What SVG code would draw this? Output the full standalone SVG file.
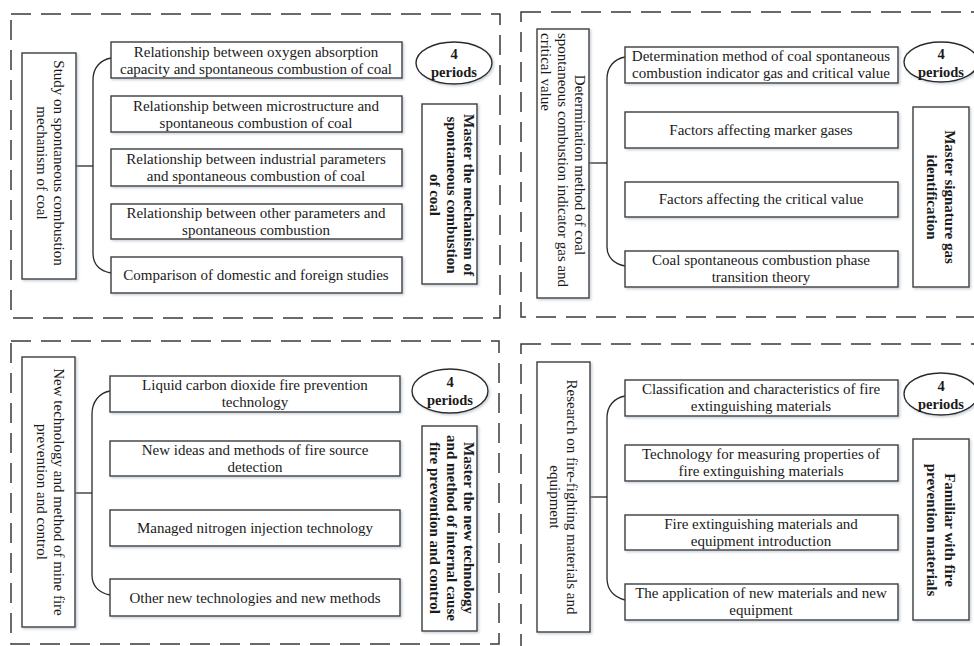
<svg xmlns="http://www.w3.org/2000/svg" width="974" height="646" viewBox="0 0 974 646">
<style>
.dash{fill:none;stroke:#3a3a3a;stroke-width:1.5;stroke-dasharray:20 10}
.box{fill:#fff;stroke:#3c3c3c;stroke-width:1.4;filter:url(#sh)}
.ell{fill:#fff;stroke:#2a2a2a;stroke-width:1.4;filter:url(#sh)}
.con{fill:none;stroke:#2a2a2a;stroke-width:1.3}
text{font-family:"Liberation Serif","Times New Roman",serif;font-size:15px;fill:#1a1a1a;dominant-baseline:central}
.c{text-anchor:middle}
.s{text-anchor:start}
.b{font-weight:bold}
.e{font-size:14.5px}
</style>
<defs>
<filter id="sh" x="-10%" y="-10%" width="130%" height="130%">
<feDropShadow dx="1.5" dy="1.5" stdDeviation="0.8" flood-color="#8a9aa8" flood-opacity="0.45"/>
</filter>
</defs>
<rect width="974" height="646" fill="#fff"/>
<g id="frames">
<rect class="dash" x="11" y="14" width="489" height="304"/>
<rect class="dash" x="521" y="12" width="480" height="305"/>
<rect class="dash" x="11" y="341" width="488" height="303"/>
<rect class="dash" x="521" y="344" width="480" height="320"/>
</g>
<g id="connectors">
<path class="con" d="M76,166 H93"/>
<path class="con" d="M111,58 C100,60 93,68 93,80 V253 C93,265 100,271 111,273"/>
<path class="con" d="M589,163 H607"/>
<path class="con" d="M625,57 C614,59 607,67 607,79 V247 C607,257 614,264 625,266"/>
<path class="con" d="M75,493 H92"/>
<path class="con" d="M110,391 C99,393 92,402 92,414 V575 C92,586 99,593 110,595"/>
<path class="con" d="M590,497 H607"/>
<path class="con" d="M625,396 C614,398 607,406 607,418 V578 C607,590 614,597 625,600"/>
</g>
<!-- Top-left -->
<g id="tl-main"><rect class="box" x="22" y="53" width="54" height="226"/>
<text class="c" transform="translate(59,163) rotate(90)">Study on spontaneous combustion</text>
<text class="c" transform="translate(42,163) rotate(90)">mechanism of coal</text></g>
<g id="tl-1"><rect class="box" x="111" y="42" width="291" height="36"/>
<text class="c" x="256" y="52">Relationship between oxygen absorption</text>
<text class="c" x="256" y="69">capacity and spontaneous combustion of coal</text></g>
<g id="tl-2"><rect class="box" x="111" y="96" width="291" height="36"/>
<text class="c" x="256" y="106">Relationship between microstructure and</text>
<text class="c" x="256" y="123">spontaneous combustion of coal</text></g>
<g id="tl-3"><rect class="box" x="111" y="149" width="291" height="37"/>
<text class="c" x="256" y="159">Relationship between industrial parameters</text>
<text class="c" x="256" y="176">and spontaneous combustion of coal</text></g>
<g id="tl-4"><rect class="box" x="111" y="204" width="291" height="35"/>
<text class="c" x="256" y="213">Relationship between other parameters and</text>
<text class="c" x="256" y="230">spontaneous combustion</text></g>
<g id="tl-5"><rect class="box" x="111" y="257" width="291" height="36"/>
<text class="c" x="256" y="275">Comparison of domestic and foreign studies</text></g>
<g id="tl-ell"><ellipse class="ell" cx="454" cy="63" rx="38" ry="21"/>
<text class="c b e" x="454" y="54">4</text>
<text class="c b e" x="454" y="72">periods</text></g>
<g id="tl-goal"><rect class="box" x="422" y="104" width="55" height="180"/>
<text class="c b" transform="translate(469,195) rotate(90)">Master the mechanism of</text>
<text class="c b" transform="translate(452,195) rotate(90)">spontaneous combustion</text>
<text class="c b" transform="translate(435,195) rotate(90)">of coal</text></g>
<!-- Top-right -->
<g id="tr-main"><rect class="box" x="537" y="29" width="52" height="269"/>
<text class="c" transform="translate(580,165) rotate(90)">Determination method of coal</text>
<text class="s" transform="translate(563,33) rotate(90)">spontaneous combustion indicator gas and</text>
<text class="s" transform="translate(546,33) rotate(90)">critical value</text></g>
<g id="tr-1"><rect class="box" x="625" y="47" width="273" height="36"/>
<text class="c" x="761" y="56">Determination method of coal spontaneous</text>
<text class="c" x="761" y="73">combustion indicator gas and critical value</text></g>
<g id="tr-2"><rect class="box" x="625" y="112" width="273" height="36"/>
<text class="c" x="761" y="130">Factors affecting marker gases</text></g>
<g id="tr-3"><rect class="box" x="625" y="182" width="273" height="35"/>
<text class="c" x="761" y="199">Factors affecting the critical value</text></g>
<g id="tr-4"><rect class="box" x="625" y="251" width="273" height="36"/>
<text class="c" x="761" y="260">Coal spontaneous combustion phase</text>
<text class="c" x="761" y="277">transition theory</text></g>
<g id="tr-ell"><ellipse class="ell" cx="941" cy="62" rx="37" ry="20"/>
<text class="c b e" x="941" y="54">4</text>
<text class="c b e" x="941" y="72">periods</text></g>
<g id="tr-goal"><rect class="box" x="913" y="107" width="56" height="180"/>
<text class="c b" transform="translate(950,197) rotate(90)">Master signature gas</text>
<text class="c b" transform="translate(932,197) rotate(90)">identification</text></g>
<!-- Bottom-left -->
<g id="bl-main"><rect class="box" x="22" y="357" width="53" height="270"/>
<text class="c" transform="translate(59,492) rotate(90)">New technology and method of mine fire</text>
<text class="c" transform="translate(42,492) rotate(90)">prevention and control</text></g>
<g id="bl-1"><rect class="box" x="110" y="376" width="290" height="36"/>
<text class="c" x="255" y="385">Liquid carbon dioxide fire prevention</text>
<text class="c" x="255" y="402">technology</text></g>
<g id="bl-2"><rect class="box" x="110" y="441" width="290" height="35"/>
<text class="c" x="255" y="450">New ideas and methods of fire source</text>
<text class="c" x="255" y="467">detection</text></g>
<g id="bl-3"><rect class="box" x="110" y="510" width="290" height="36"/>
<text class="c" x="255" y="528">Managed nitrogen injection technology</text></g>
<g id="bl-4"><rect class="box" x="110" y="579" width="290" height="37"/>
<text class="c" x="255" y="598">Other new technologies and new methods</text></g>
<g id="bl-ell"><ellipse class="ell" cx="450" cy="391" rx="38" ry="22"/>
<text class="c b e" x="450" y="382">4</text>
<text class="c b e" x="450" y="400">periods</text></g>
<g id="bl-goal"><rect class="box" x="422" y="426" width="55" height="205"/>
<text class="c b" transform="translate(469,528) rotate(90)">Master the new technology</text>
<text class="c b" transform="translate(452,528) rotate(90)">and method of internal cause</text>
<text class="c b" transform="translate(435,528) rotate(90)">fire prevention and control</text></g>
<!-- Bottom-right -->
<g id="br-main"><rect class="box" x="537" y="362" width="53" height="270"/>
<text class="c" transform="translate(572,497) rotate(90)">Research on fire-fighting materials and</text>
<text class="c" transform="translate(555,497) rotate(90)">equipment</text></g>
<g id="br-1"><rect class="box" x="625" y="380" width="273" height="36"/>
<text class="c" x="761" y="389">Classification and characteristics of fire</text>
<text class="c" x="761" y="406">extinguishing materials</text></g>
<g id="br-2"><rect class="box" x="625" y="445" width="273" height="36"/>
<text class="c" x="761" y="454">Technology for measuring properties of</text>
<text class="c" x="761" y="471">fire extinguishing materials</text></g>
<g id="br-3"><rect class="box" x="625" y="515" width="273" height="35"/>
<text class="c" x="761" y="524">Fire extinguishing materials and</text>
<text class="c" x="761" y="541">equipment introduction</text></g>
<g id="br-4"><rect class="box" x="625" y="584" width="273" height="36"/>
<text class="c" x="761" y="593">The application of new materials and new</text>
<text class="c" x="761" y="610">equipment</text></g>
<g id="br-ell"><ellipse class="ell" cx="941" cy="394" rx="37" ry="21"/>
<text class="c b e" x="941" y="386">4</text>
<text class="c b e" x="941" y="404">periods</text></g>
<g id="br-goal"><rect class="box" x="913" y="439" width="56" height="181"/>
<text class="c b" transform="translate(950,530) rotate(90)">Familiar with fire</text>
<text class="c b" transform="translate(932,530) rotate(90)">prevention materials</text></g>
</svg>
